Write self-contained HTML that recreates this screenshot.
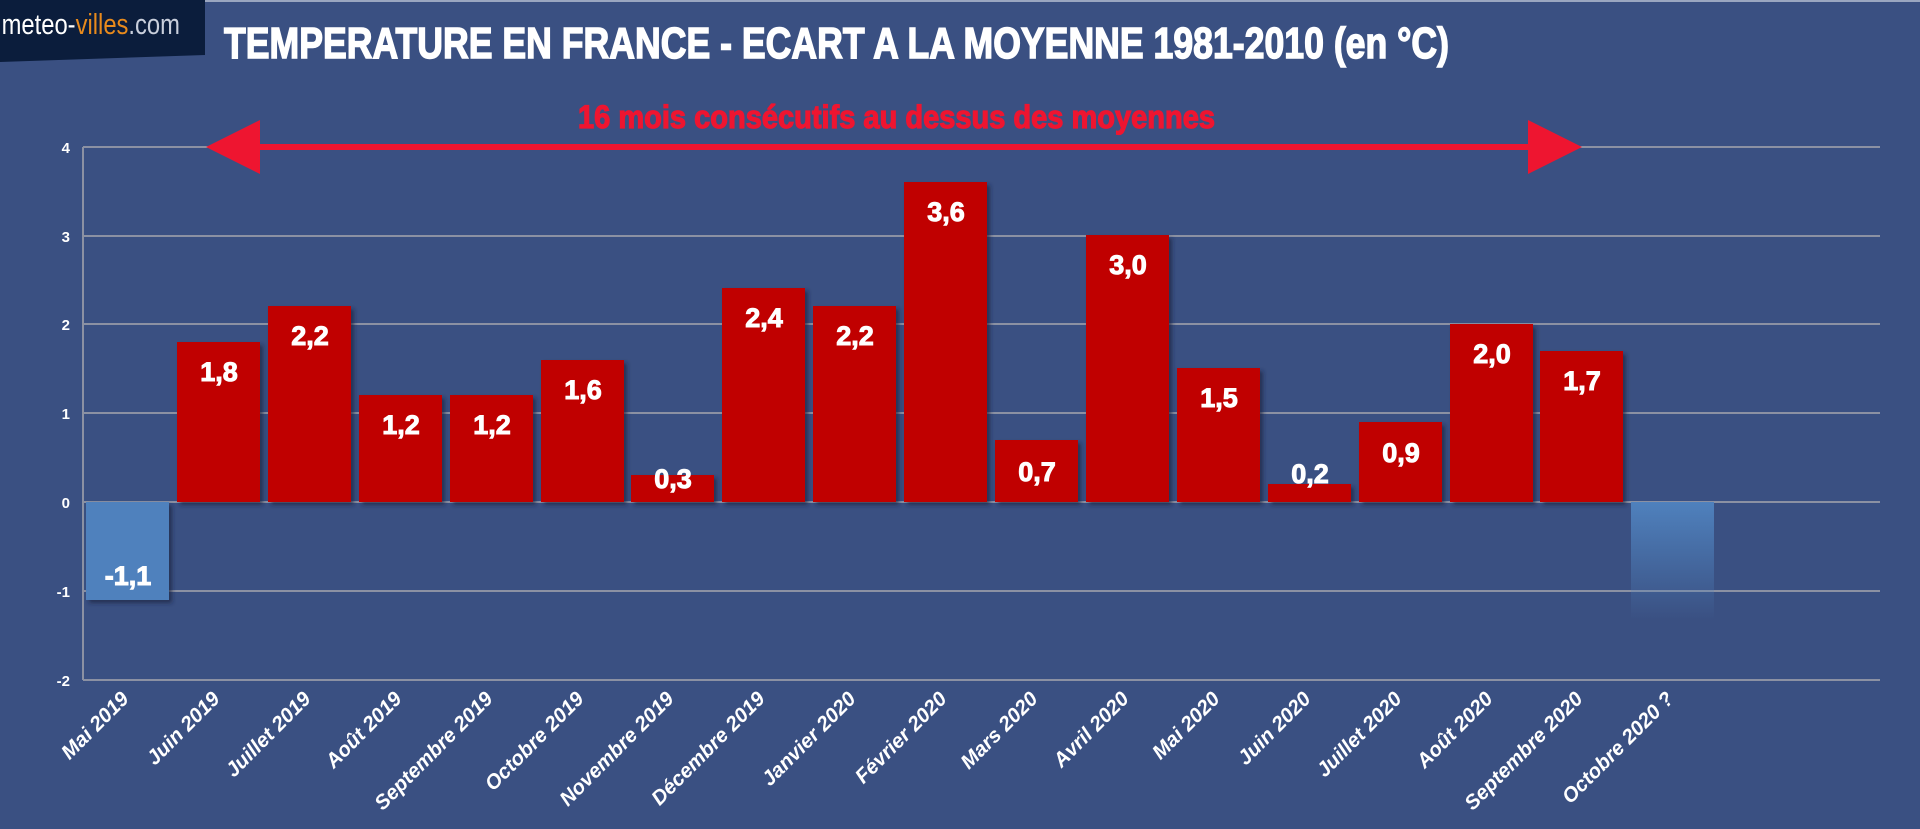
<!DOCTYPE html>
<html><head><meta charset="utf-8"><style>
html,body{margin:0;padding:0;background:#3a5082;}
svg{display:block}
.t{font-family:"Liberation Sans",sans-serif;font-weight:bold}
</style></head><body>
<svg width="1920" height="829" viewBox="0 0 1920 829" xmlns="http://www.w3.org/2000/svg">
<defs>
<linearGradient id="g" x1="0" y1="0" x2="0" y2="1"><stop offset="0" stop-color="#4f81bd"/><stop offset="1" stop-color="#4f81bd" stop-opacity="0"/></linearGradient>
<filter id="sh" x="-10%" y="-10%" width="130%" height="130%"><feDropShadow dx="3" dy="3" stdDeviation="2" flood-color="#1a2440" flood-opacity="0.7"/></filter>
</defs>
<rect width="1920" height="829" fill="#3a5082"/>
<rect x="0" y="0" width="1920" height="2" fill="#9aa6c0"/>
<polygon points="0,0 205,0 205,55 0,62" fill="#0b1d3c"/>
<text x="2" y="34" font-size="29" fill="#fff" transform="scale(0.82,1)" style="font-family:'Liberation Sans Narrow','Liberation Sans',sans-serif">meteo-<tspan fill="#e88a1c">villes</tspan><tspan fill="#c9cfdc">.com</tspan></text>
<text x="224" y="58" class="t" font-size="44" fill="#fff" stroke="#fff" stroke-width="1.5" textLength="1225" lengthAdjust="spacingAndGlyphs">TEMPERATURE EN FRANCE - ECART A LA MOYENNE 1981-2010 (en °C)</text>
<text x="578" y="128" class="t" font-size="32" fill="#ee1530" stroke="#ee1530" stroke-width="1.2" textLength="637" lengthAdjust="spacingAndGlyphs">16 mois consécutifs au dessus des moyennes</text>
<g stroke="#8b91a3" stroke-width="2">
<line x1="83" y1="147" x2="1880" y2="147"/><line x1="83" y1="236" x2="1880" y2="236"/><line x1="83" y1="324" x2="1880" y2="324"/><line x1="83" y1="413" x2="1880" y2="413"/><line x1="83" y1="502" x2="1880" y2="502"/><line x1="83" y1="591" x2="1880" y2="591"/><line x1="83" y1="680" x2="1880" y2="680"/><line x1="83" y1="147" x2="83" y2="680"/>
</g>
<g class="t" font-size="15" fill="#fff" text-anchor="end">
<text x="70" y="153">4</text><text x="70" y="242">3</text><text x="70" y="330">2</text><text x="70" y="419">1</text><text x="70" y="508">0</text><text x="70" y="597">-1</text><text x="70" y="686">-2</text>
</g>
<line x1="240" y1="147" x2="1550" y2="147" stroke="#ee1530" stroke-width="6"/>
<polygon points="206,147 260,120 260,174" fill="#ee1530"/>
<polygon points="1582,147 1528,120 1528,174" fill="#ee1530"/>
<g filter="url(#sh)">
<rect x="86" y="502" width="83" height="98" fill="#4f81bd"/>
<rect x="177" y="342" width="83" height="160" fill="#c00000"/>
<rect x="268" y="306" width="83" height="196" fill="#c00000"/>
<rect x="359" y="395" width="83" height="107" fill="#c00000"/>
<rect x="450" y="395" width="83" height="107" fill="#c00000"/>
<rect x="541" y="360" width="83" height="142" fill="#c00000"/>
<rect x="631" y="475" width="83" height="27" fill="#c00000"/>
<rect x="722" y="288" width="83" height="214" fill="#c00000"/>
<rect x="813" y="306" width="83" height="196" fill="#c00000"/>
<rect x="904" y="182" width="83" height="320" fill="#c00000"/>
<rect x="995" y="440" width="83" height="62" fill="#c00000"/>
<rect x="1086" y="235" width="83" height="267" fill="#c00000"/>
<rect x="1177" y="368" width="83" height="134" fill="#c00000"/>
<rect x="1268" y="484" width="83" height="18" fill="#c00000"/>
<rect x="1359" y="422" width="83" height="80" fill="#c00000"/>
<rect x="1450" y="324" width="83" height="178" fill="#c00000"/>
<rect x="1540" y="351" width="83" height="151" fill="#c00000"/>
</g>
<rect x="1631" y="502" width="83" height="118" fill="url(#g)"/>
<g class="t" font-size="27" fill="#fff" stroke="#fff" stroke-width="1" text-anchor="middle">
<text x="128" y="585">-1,1</text>
<text x="219" y="381">1,8</text>
<text x="310" y="345">2,2</text>
<text x="401" y="434">1,2</text>
<text x="492" y="434">1,2</text>
<text x="583" y="399">1,6</text>
<text x="673" y="488">0,3</text>
<text x="764" y="327">2,4</text>
<text x="855" y="345">2,2</text>
<text x="946" y="221">3,6</text>
<text x="1037" y="481">0,7</text>
<text x="1128" y="274">3,0</text>
<text x="1219" y="407">1,5</text>
<text x="1310" y="483">0,2</text>
<text x="1401" y="462">0,9</text>
<text x="1492" y="363">2,0</text>
<text x="1582" y="390">1,7</text>
</g>
<g font-family="Liberation Sans,sans-serif" font-weight="bold" font-style="italic" font-size="20.5" fill="#fff" text-anchor="end">
<text transform="translate(130,700) rotate(-45)">Mai 2019</text>
<text transform="translate(221,700) rotate(-45)">Juin 2019</text>
<text transform="translate(312,700) rotate(-45)">Juillet 2019</text>
<text transform="translate(403,700) rotate(-45)">Août 2019</text>
<text transform="translate(494,700) rotate(-45)">Septembre 2019</text>
<text transform="translate(585,700) rotate(-45)">Octobre 2019</text>
<text transform="translate(675,700) rotate(-45)">Novembre 2019</text>
<text transform="translate(766,700) rotate(-45)">Décembre 2019</text>
<text transform="translate(857,700) rotate(-45)">Janvier 2020</text>
<text transform="translate(948,700) rotate(-45)">Février 2020</text>
<text transform="translate(1039,700) rotate(-45)">Mars 2020</text>
<text transform="translate(1130,700) rotate(-45)">Avril 2020</text>
<text transform="translate(1221,700) rotate(-45)">Mai 2020</text>
<text transform="translate(1312,700) rotate(-45)">Juin 2020</text>
<text transform="translate(1403,700) rotate(-45)">Juillet 2020</text>
<text transform="translate(1494,700) rotate(-45)">Août 2020</text>
<text transform="translate(1584,700) rotate(-45)">Septembre 2020</text>
<text transform="translate(1675,700) rotate(-45)">Octobre 2020 ?</text>
</g>
</svg>
</body></html>
